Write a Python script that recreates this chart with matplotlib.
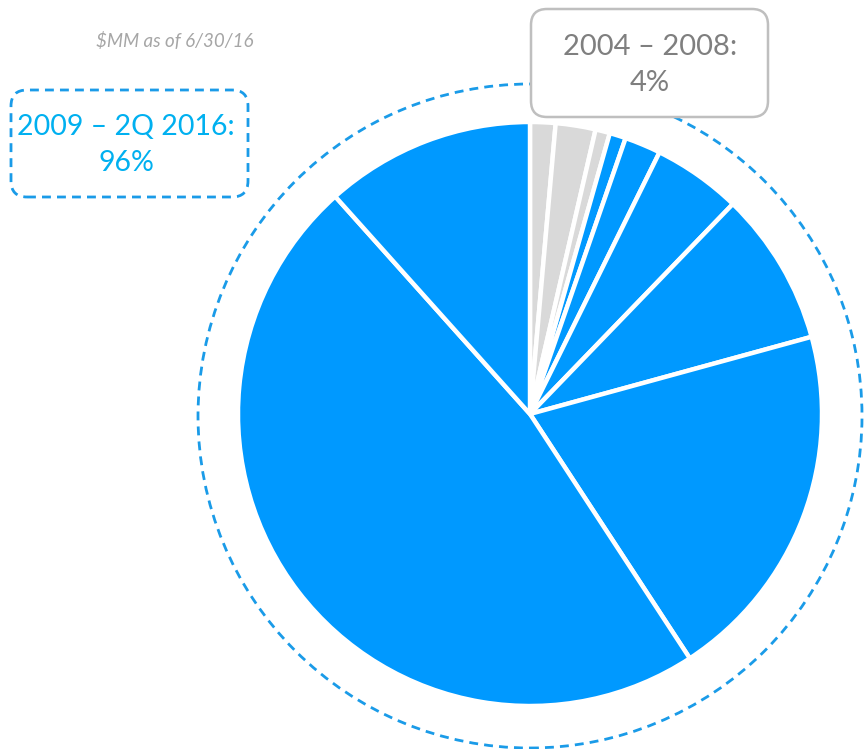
import matplotlib
matplotlib.use('agg')
import matplotlib.pyplot as plt
from matplotlib.patches import Circle, FancyBboxPatch

# slice shares (%), clockwise from 12 o'clock
shares = [1.4, 2.2, 0.8, 0.9, 2.0, 4.9, 8.5, 20.0, 47.5, 11.6]
periods = ['2004-2008'] * 3 + ['2009-2Q 2016'] * 7
period_labels = ['2004 \u2013 2008:\n4%', '2009 \u2013 2Q 2016:\n96%']
subtitle = '$MM as of 6/30/16'

BLUE = '#0099ff'
GRAY = '#d9d9d9'
TEXT_BLUE = '#00b0f0'
TEXT_GRAY = '#7f7f7f'

W, H = 867, 749
plt.rcParams['font.family'] = ['Lato', 'DejaVu Sans']

fig = plt.figure(figsize=(W / 100, H / 100), dpi=100)
ax = fig.add_axes([0, 0, 1, 1])


def py(y):
    # pixel row from top -> data y
    return H - y


colors = [GRAY if p == '2004-2008' else BLUE for p in periods]
ax.pie(shares, colors=colors, startangle=90, counterclock=False,
       center=(530, py(414)), radius=292, frame=True,
       wedgeprops=dict(edgecolor='white', linewidth=3.2))
ax.set_xlim(0, W)
ax.set_ylim(0, H)
ax.set_aspect('equal')
ax.axis('off')

ring = Circle((530, py(416)), 332, fill=False, edgecolor='#1a9be8',
              linewidth=2, linestyle=(0, (3.2, 2.2)), zorder=3)
ax.add_patch(ring)

# gray callout
gbox = FancyBboxPatch((531, py(117)), 237, 108, boxstyle='round,pad=0,rounding_size=16',
                      facecolor='white', edgecolor='#bfbfbf', linewidth=1.8, zorder=5)
ax.add_patch(gbox)
ax.text(650, py(65), period_labels[0], ha='center', va='center', fontsize=21,
        color=TEXT_GRAY, linespacing=1.45, zorder=6)

# blue callout
bbox = FancyBboxPatch((11, py(197)), 237, 107, boxstyle='round,pad=0,rounding_size=16',
                      facecolor='white', edgecolor='#1a9be8', linewidth=2,
                      linestyle=(0, (3.2, 2.2)), zorder=5)
ax.add_patch(bbox)
ax.text(126, py(145), period_labels[1], ha='center', va='center', fontsize=20.5,
        color=TEXT_BLUE, linespacing=1.45, zorder=6)

ax.text(175, py(41), subtitle, ha='center', va='center', fontsize=13.5,
        style='italic', color='#a6a6a6')

fig.savefig('out.png', dpi=100)
